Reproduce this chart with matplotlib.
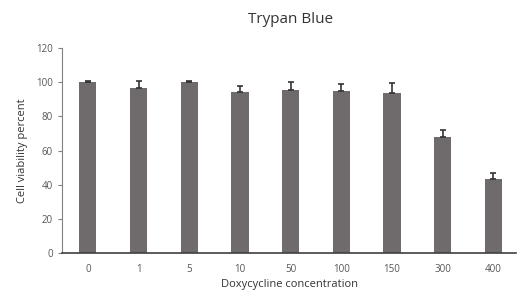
import matplotlib.pyplot as plt

# Trypan blue viability data
concentrations = ['0', '1', '5', '10', '50', '100', '150', '300', '400']
viability = [100, 96.4, 100, 94.4, 95.4, 94.8, 93.9, 68.1, 43.1]
errors = [0.5, 4.5, 0.5, 3.6, 4.5, 4.0, 5.4, 4.0, 4.0]

plt.rcParams['font.family'] = ['Open Sans', 'DejaVu Sans']

fig = plt.figure(figsize=(5.19, 3.06), dpi=100)
ax = fig.add_axes([0.1195, 0.173, 0.875, 0.67])

x = range(len(concentrations))
ax.bar(x, viability, width=0.34, color='#6f6a6b', zorder=2)
ax.errorbar(x, viability, yerr=[[0] * len(errors), errors], fmt='none',
            ecolor='#333333', elinewidth=1.2, capsize=2.5, capthick=1.2, zorder=3)

ax.set_xlim(-0.51, 8.45)
ax.set_ylim(0, 120)
ax.set_yticks(range(0, 121, 20))
ax.set_xticks(list(x))
ax.set_xticklabels(concentrations)

for s in ['top', 'right']:
    ax.spines[s].set_visible(False)
ax.spines['left'].set_color('#808080')
ax.spines['bottom'].set_color('#404040')
ax.spines['bottom'].set_linewidth(1.2)
ax.tick_params(axis='x', length=0, labelsize=7, colors='#555555', pad=8)
ax.tick_params(axis='y', length=3, labelsize=7, colors='#555555', direction='out')
ax.tick_params(axis='y', color='#808080')

ax.set_xlabel('Doxycycline concentration', fontsize=8, color='#333333', labelpad=3)
ax.set_ylabel('Cell viability percent', fontsize=8, color='#333333', labelpad=6)
fig.text(0.56, 0.935, 'Trypan Blue', ha='center', va='center', fontsize=11, color='#333333')

fig.savefig('out.png', dpi=100)
